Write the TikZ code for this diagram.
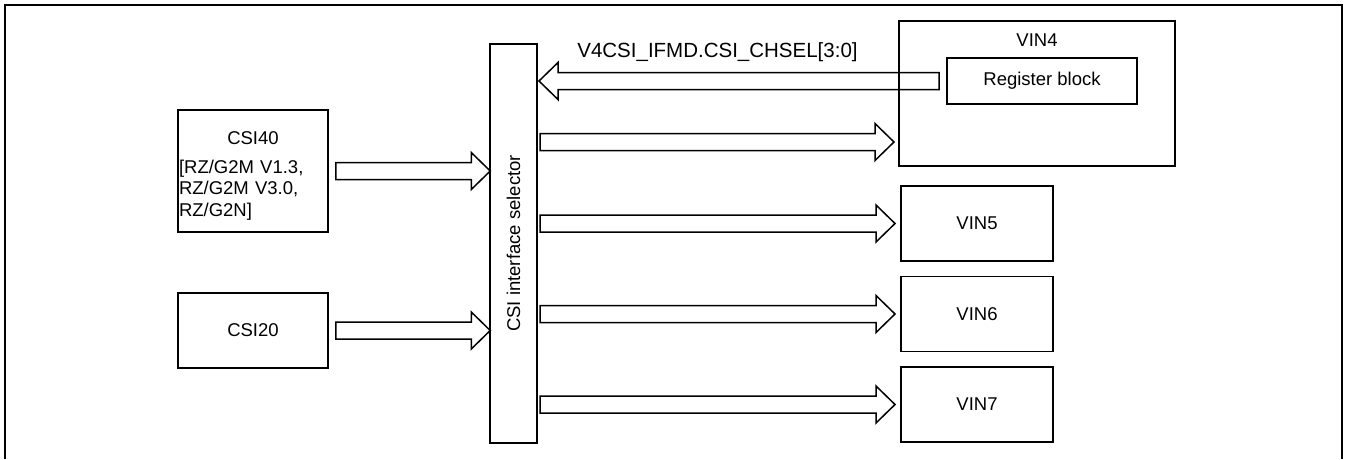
\documentclass[tikz,border=0pt]{standalone}
\usepackage{fontspec}
\setmainfont{Liberation Sans}
\usetikzlibrary{calc,positioning}
\tikzset{
  block/.style={draw,line width=1.5pt,inner sep=0pt,align=center,
    font=\fontsize{18.5}{21.5}\selectfont},
  txt/.style={inner sep=0pt,font=\fontsize{18.5}{21.5}\selectfont},
  frameline/.style={line width=2.2pt},
  busarrow/.style={draw,line width=1.5pt,line join=miter,
    to path={let \p1=(\tikztostart),\p2=(\tikztotarget),
      \p3=($(\p2)!19pt!(\p1)$) in
      ($(\p1)!8.5pt!90:(\p2)$) -- ($(\p3)!8.5pt!-90:(\p1)$)
      -- ($(\p3)!18.5pt!-90:(\p1)$) -- (\p2)
      -- ($(\p3)!18.5pt!90:(\p1)$) -- ($(\p3)!8.5pt!90:(\p1)$)
      -- ($(\p1)!8.5pt!-90:(\p2)$) -- cycle}}
}

\begin{document}
\begin{tikzpicture}[x=1pt,y=-1pt,node distance=14pt]
  \useasboundingbox (0,0) rectangle (1347,459);
  \draw[frameline] (5,459) -- (5,5) -- (1342,5) -- (1342,459);

  \node[block,minimum width=47pt,minimum height=399pt] (sel) at (513.5,243.5)
    {\rotatebox{90}{CSI interface selector}};
  \node[block,minimum width=150pt,minimum height=122pt] (csi40) at (253,171) {};
  \node[txt,text width=148pt,align=left] (csi40txt) at ([yshift=-5pt]csi40.center) {
    \makebox[148pt]{CSI40}\\[7pt]
    [RZ/G2M V1.3,\\
    RZ/G2M V3.0,\\
    RZ/G2N]};
  \node[block,minimum width=150pt,minimum height=75pt] (csi20) at (253,330.5) {CSI20};

  \node[block,minimum width=276pt,minimum height=145pt] (vin4) at (1037,93.5) {};
  \node[txt,below=13pt of vin4.north] (vin4lab) {VIN4};
  \node[block,minimum width=190pt,minimum height=46pt] (reg) at (1042,81) {Register block};
  \node[block,minimum width=152pt,minimum height=75pt] (vin5) at (977,223.5) {VIN5};
  \node[block,minimum width=152pt,minimum height=75pt,below=of vin5] (vin6) {VIN6};
  \node[block,minimum width=152pt,minimum height=75pt,below=of vin6] (vin7) {VIN7};

  \node[txt,font=\fontsize{20.5}{24}\selectfont] (chsel) at (717.5,52)
    {V4CSI\_IFMD.CSI\_CHSEL[3:0]};

  \draw[busarrow] ([xshift=7pt]csi40.east) to ([xshift=1pt]sel.west |- csi40.east);
  \draw[busarrow] ([xshift=7pt]csi20.east) to ([xshift=1pt]sel.west |- csi20.east);
  \draw[busarrow] ([xshift=-7.25pt]reg.west) to ([xshift=1.25pt]sel.east |- reg.west);
  \coordinate (vin4port) at ([xshift=-4.25pt,yshift=24.75pt]vin4.south west);
  \draw[busarrow] ([xshift=2.25pt]sel.east |- vin4port) to (vin4port);
  \foreach \v in {vin5,vin6,vin7}
    \draw[busarrow] ([xshift=2.25pt]sel.east |- \v.west) to ([xshift=-5.25pt]\v.west);
\end{tikzpicture}
\end{document}
